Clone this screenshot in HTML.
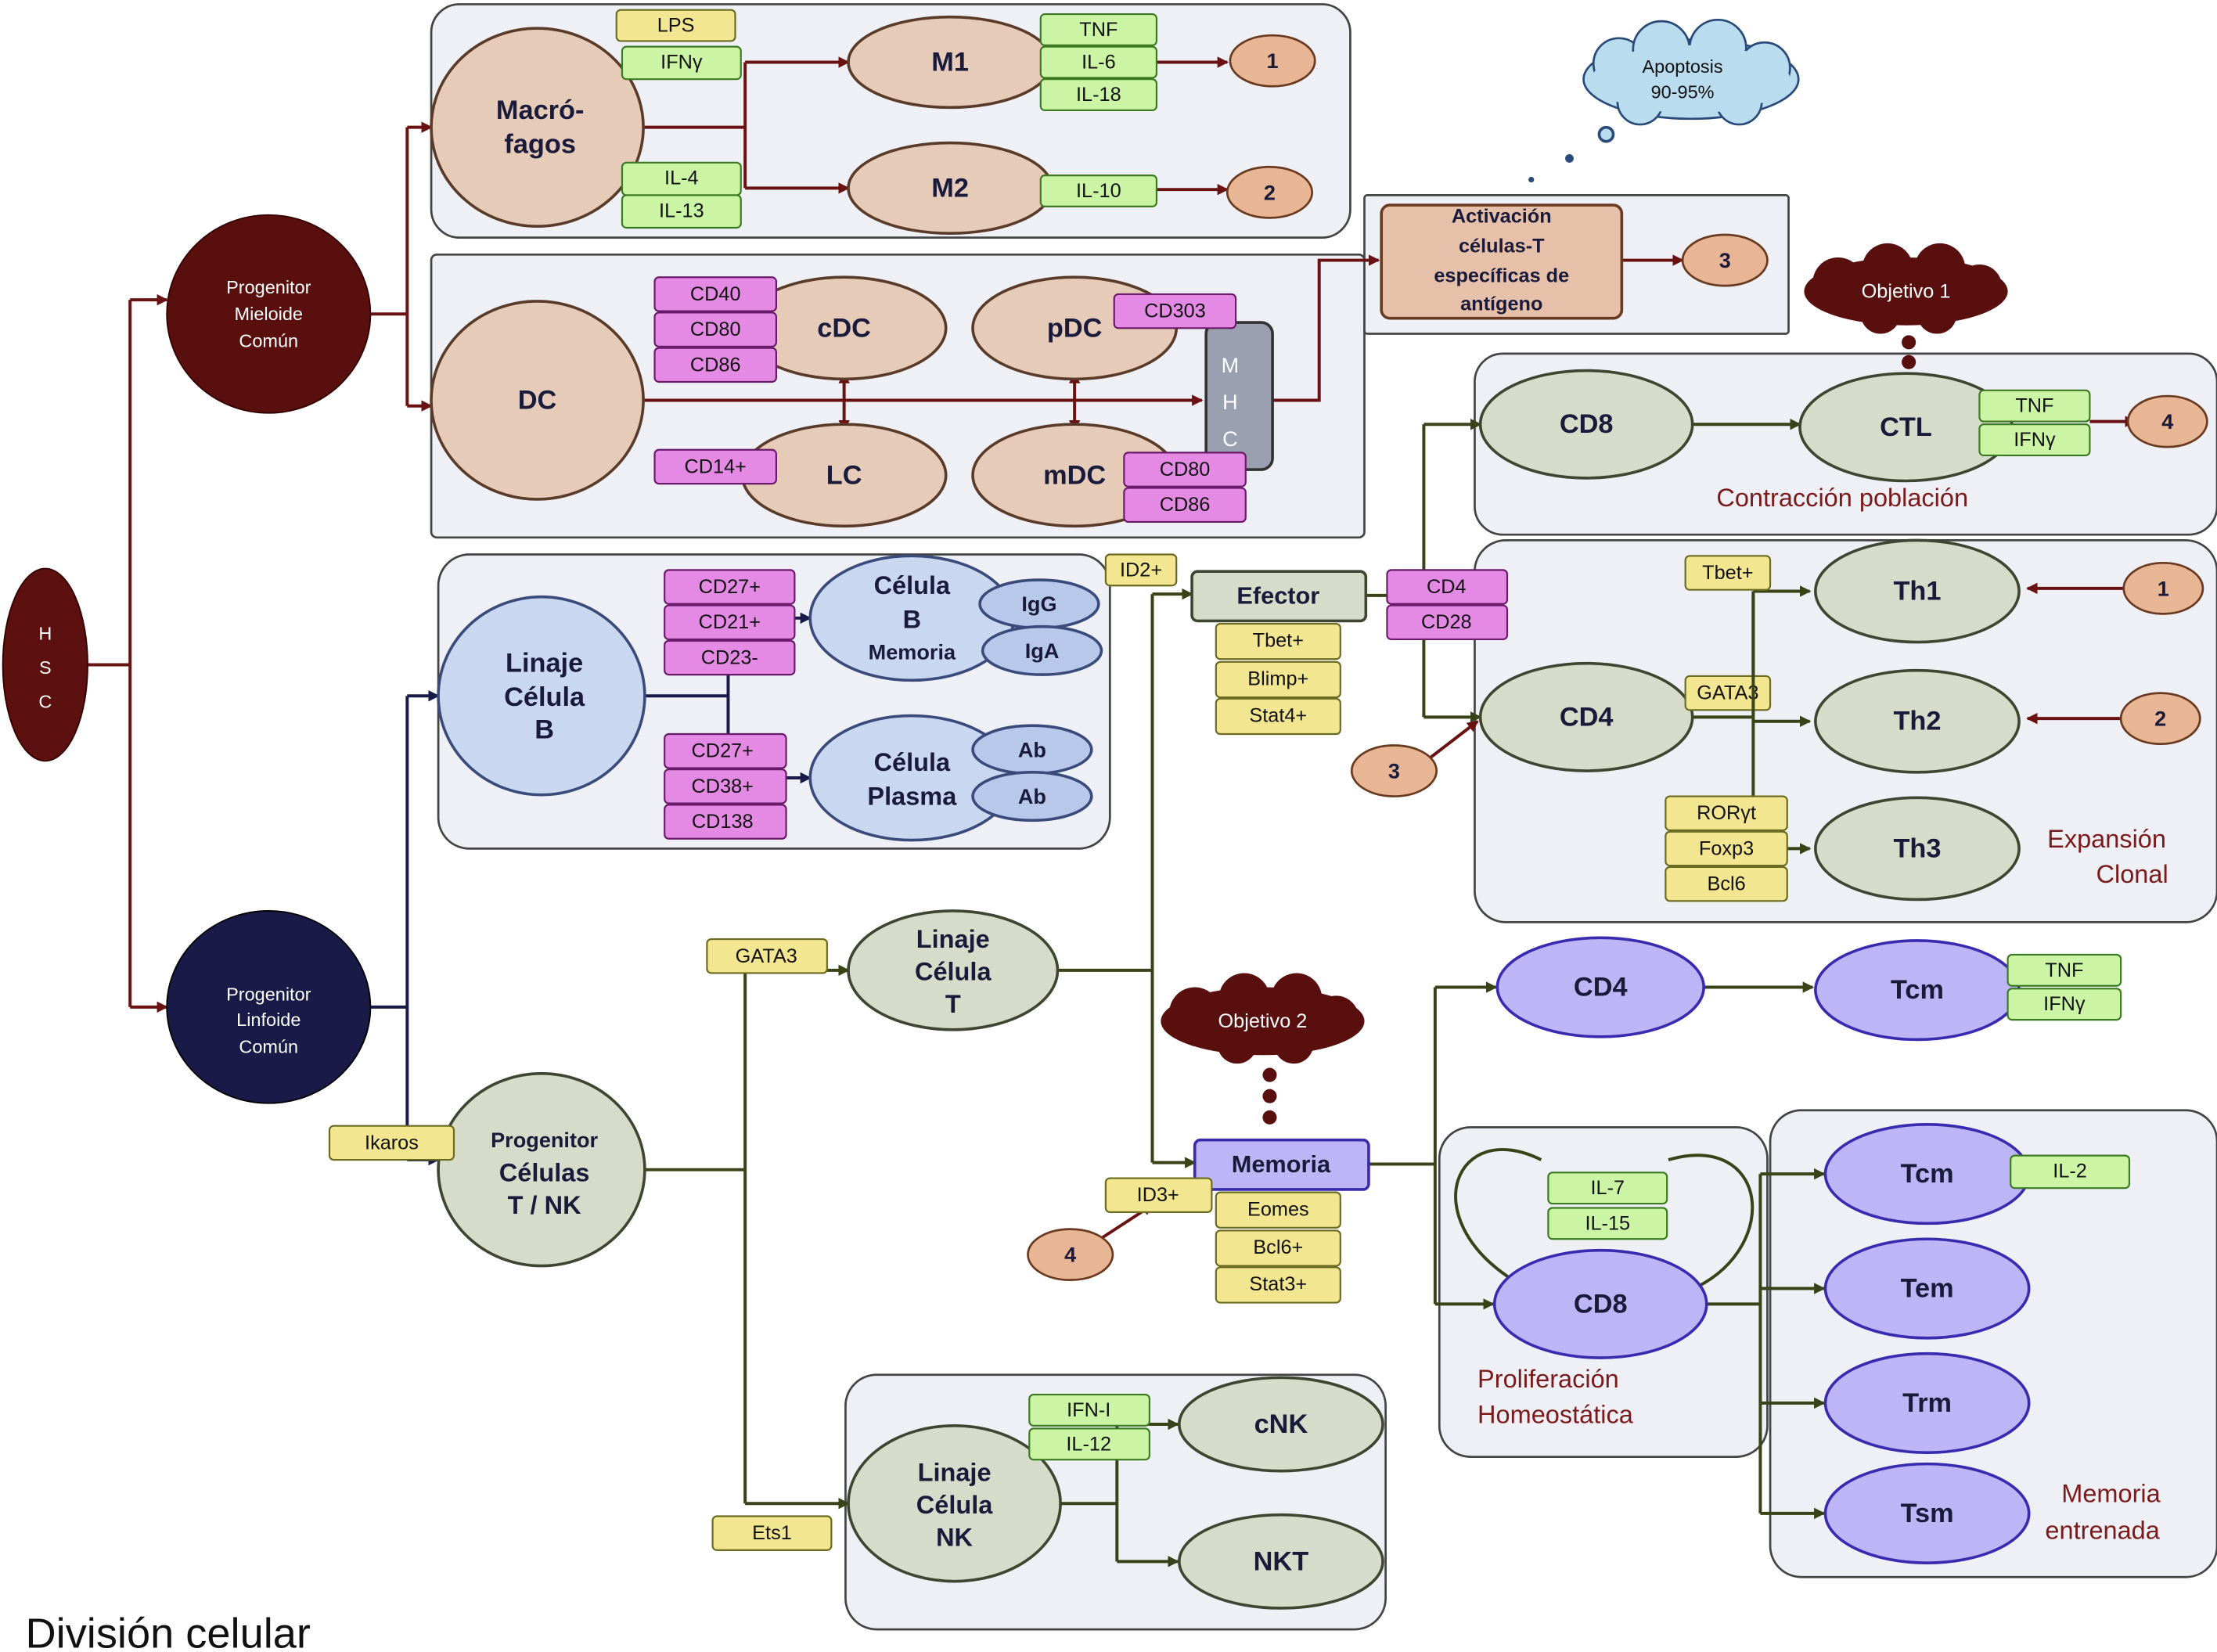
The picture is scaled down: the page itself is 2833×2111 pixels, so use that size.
<!DOCTYPE html>
<html><head><meta charset="utf-8"><style>
html,body{margin:0;padding:0;background:#fff;}
svg{display:block;}
text{font-family:"Liberation Sans",sans-serif;}
.t{font-size:15px;font-weight:bold;text-anchor:middle;dominant-baseline:central;fill:#1a1a3a;}
.s{font-size:14px;text-anchor:middle;dominant-baseline:central;fill:#111;}
.big{font-size:19px;font-weight:bold;text-anchor:middle;dominant-baseline:central;fill:#1a1a3a;}
.w{font-size:13px;text-anchor:middle;dominant-baseline:central;fill:#fff;}
.grp{fill:#eef0f6;stroke:#444;stroke-width:1.5;}
.pe{fill:#e6cbb8;stroke:#5a3a28;stroke-width:2;}
.gr{fill:#d7dbc9;stroke:#3e4530;stroke-width:2;}
.bl{fill:#c9d8f0;stroke:#3a4a7a;stroke-width:2;}
.pu{fill:#bdb5f5;stroke:#3a2ab0;stroke-width:2;}
.nb{fill:#e8b595;stroke:#6a3a20;stroke-width:1.5;}
.m{fill:#e489e4;stroke:#6a1a6a;stroke-width:1.2;}
.g{fill:#cbf5a5;stroke:#3a7a20;stroke-width:1.2;}
.y{fill:#f2e690;stroke:#6a6a20;stroke-width:1.2;}
.r{stroke:#6a1212;stroke-width:2.2;fill:none;}
.n{stroke:#1a1a4a;stroke-width:2.2;fill:none;}
.o{stroke:#3a4218;stroke-width:2.2;fill:none;}
.lbl{font-size:18px;fill:#7a1a1a;}
</style></head><body>
<svg width="2833" height="2111" viewBox="0 0 1568 1168" preserveAspectRatio="none" xmlns="http://www.w3.org/2000/svg">
<defs>
<marker id="ar" markerWidth="8" markerHeight="8" refX="7" refY="4" orient="auto" markerUnits="userSpaceOnUse"><path d="M0,0 L8,4 L0,8z" fill="#6a1212"/></marker>
<marker id="an" markerWidth="8" markerHeight="8" refX="7" refY="4" orient="auto" markerUnits="userSpaceOnUse"><path d="M0,0 L8,4 L0,8z" fill="#1a1a4a"/></marker>
<marker id="ao" markerWidth="8" markerHeight="8" refX="7" refY="4" orient="auto" markerUnits="userSpaceOnUse"><path d="M0,0 L8,4 L0,8z" fill="#3a4218"/></marker>
<marker id="ars" markerWidth="8" markerHeight="8" refX="1" refY="4" orient="auto" markerUnits="userSpaceOnUse"><path d="M8,0 L0,4 L8,8z" fill="#6a1212"/></marker>
</defs>

<!-- group boxes -->
<rect class="grp" x="305" y="3" width="650" height="165" rx="20"/>
<rect class="grp" x="305" y="180" width="660" height="200" rx="4"/>
<rect class="grp" x="965" y="138" width="300" height="98" rx="2"/>
<rect class="grp" x="1043" y="250" width="525" height="128" rx="20"/>
<rect class="grp" x="1043" y="382" width="525" height="270" rx="22"/>
<rect class="grp" x="310" y="392" width="475" height="208" rx="22"/>
<rect class="grp" x="598" y="972" width="382" height="180" rx="22"/>
<rect class="grp" x="1018" y="797" width="232" height="233" rx="22"/>
<rect class="grp" x="1252" y="785" width="316" height="330" rx="22"/>

<!-- connectors -->
<path class="r" d="M62,470 H92 M92,212 V712"/>
<path class="r" d="M92,212 H118" marker-end="url(#ar)"/>
<path class="r" d="M92,712 H118" marker-end="url(#ar)"/>
<path class="r" d="M262,222 H288 M288,90 V287"/>
<path class="r" d="M288,90 H305" marker-end="url(#ar)"/>
<path class="r" d="M288,287 H305" marker-end="url(#ar)"/>
<path class="r" d="M455,90 H527 M527,44 V133"/>
<path class="r" d="M527,44 H600" marker-end="url(#ar)"/>
<path class="r" d="M527,133 H600" marker-end="url(#ar)"/>
<path class="r" d="M744,44 H868" marker-end="url(#ar)"/>
<path class="r" d="M744,134 H868" marker-end="url(#ar)"/>
<path class="r" d="M455,283 H850" marker-end="url(#ar)"/>
<path class="r" d="M597,264 V304" marker-start="url(#ars)" marker-end="url(#ar)"/>
<path class="r" d="M760,264 V304" marker-start="url(#ars)" marker-end="url(#ar)"/>
<path class="r" d="M888,283 H933 V184 H975" marker-end="url(#ar)"/>
<path class="r" d="M1147,184 H1190" marker-end="url(#ar)"/>
<path class="n" d="M262,712 H288 M288,492 V820"/>
<path class="n" d="M288,492 H310" marker-end="url(#an)"/>
<path class="n" d="M288,820 H310" marker-end="url(#an)"/>
<path class="n" d="M456,492 H515 M515,437 V550"/>
<path class="n" d="M515,437 H573" marker-end="url(#an)"/>
<path class="n" d="M515,550 H573" marker-end="url(#an)"/>
<path class="o" d="M456,827 H527 M527,686 V1063"/>
<path class="o" d="M527,686 H600" marker-end="url(#ao)"/>
<path class="o" d="M527,1063 H600" marker-end="url(#ao)"/>
<path class="o" d="M748,686 H815 M815,420 V822"/>
<path class="o" d="M815,420 H843" marker-end="url(#ao)"/>
<path class="o" d="M815,822 H845" marker-end="url(#ao)"/>
<path class="o" d="M966,421 H1007 M1007,300 V507"/>
<path class="o" d="M1007,300 H1047" marker-end="url(#ao)"/>
<path class="o" d="M1007,507 H1047" marker-end="url(#ao)"/>
<path class="o" d="M1197,300 H1273" marker-end="url(#ao)"/>
<path class="r" d="M1478,298 H1510" marker-end="url(#ar)"/>
<path class="o" d="M1197,507 H1240 M1240,418 V600"/>
<path class="o" d="M1240,418 H1280" marker-end="url(#ao)"/>
<path class="o" d="M1240,510 H1280" marker-end="url(#ao)"/>
<path class="o" d="M1240,600 H1280" marker-end="url(#ao)"/>
<path class="r" d="M1508,416 H1434" marker-end="url(#ar)"/>
<path class="r" d="M1506,508 H1434" marker-end="url(#ar)"/>
<path class="r" d="M1006,540 L1045,510" marker-end="url(#ar)"/>
<path class="o" d="M968,823 H1015 M1015,698 V922"/>
<path class="o" d="M1015,698 H1058" marker-end="url(#ao)"/>
<path class="o" d="M1015,922 H1056" marker-end="url(#ao)"/>
<path class="o" d="M1205,698 H1282" marker-end="url(#ao)"/>
<path class="o" d="M1207,922 H1245 M1245,830 V1070"/>
<path class="o" d="M1245,830 H1290" marker-end="url(#ao)"/>
<path class="o" d="M1245,911 H1290" marker-end="url(#ao)"/>
<path class="o" d="M1245,992 H1290" marker-end="url(#ao)"/>
<path class="o" d="M1245,1070 H1290" marker-end="url(#ao)"/>
<path class="r" d="M775,878 L815,852" marker-end="url(#ar)"/>
<path class="o" d="M750,1063 H790 M790,1007 V1104"/>
<path class="o" d="M790,1007 H833" marker-end="url(#ao)"/>
<path class="o" d="M790,1104 H833" marker-end="url(#ao)"/>
<path class="o" d="M1070,905 C1000,860 1030,790 1090,820"/>
<path class="o" d="M1180,820 C1250,800 1260,880 1200,910"/>

<!-- main nodes -->
<ellipse cx="32" cy="470" rx="30" ry="68" fill="#5c1010" stroke="#300"/>
<text class="w" x="32" y="448">H</text><text class="w" x="32" y="472">S</text><text class="w" x="32" y="496">C</text>
<ellipse cx="190" cy="222" rx="72" ry="70" fill="#5a0f0f" stroke="#300"/>
<text class="w" x="190" y="203">Progenitor</text><text class="w" x="190" y="222">Mieloide</text><text class="w" x="190" y="241">Común</text>
<ellipse cx="190" cy="712" rx="72" ry="68" fill="#1a1a48" stroke="#000"/>
<text class="w" x="190" y="703">Progenitor</text><text class="w" x="190" y="721">Linfoide</text><text class="w" x="190" y="740">Común</text>

<ellipse class="pe" cx="380" cy="90" rx="75" ry="70"/>
<text class="big" x="382" y="78">Macró-</text><text class="big" x="382" y="102">fagos</text>
<ellipse class="pe" cx="672" cy="44" rx="72" ry="32"/><text class="big" x="672" y="44">M1</text>
<ellipse class="pe" cx="672" cy="133" rx="72" ry="32"/><text class="big" x="672" y="133">M2</text>
<ellipse class="nb" cx="900" cy="43" rx="30" ry="18"/><text class="t" x="900" y="43">1</text>
<ellipse class="nb" cx="898" cy="136" rx="30" ry="18"/><text class="t" x="898" y="136">2</text>

<ellipse class="pe" cx="380" cy="283" rx="75" ry="70"/><text class="big" x="380" y="283">DC</text>
<ellipse class="pe" cx="597" cy="232" rx="72" ry="36"/><text class="big" x="597" y="232">cDC</text>
<ellipse class="pe" cx="760" cy="232" rx="72" ry="36"/><text class="big" x="760" y="232">pDC</text>
<ellipse class="pe" cx="597" cy="336" rx="72" ry="36"/><text class="big" x="597" y="336">LC</text>
<ellipse class="pe" cx="760" cy="336" rx="72" ry="36"/><text class="big" x="760" y="336">mDC</text>
<rect x="853" y="228" width="47" height="104" rx="8" fill="#9aa0b0" stroke="#333" stroke-width="2"/>
<text class="w" x="870" y="258" style="font-size:15px">M</text><text class="w" x="870" y="284" style="font-size:15px">H</text><text class="w" x="870" y="310" style="font-size:15px">C</text>

<rect x="977" y="145" width="170" height="80" rx="6" fill="#e6c0a8" stroke="#6a3a20" stroke-width="2"/>
<text class="t" x="1062" y="153" style="font-size:14px">Activación</text>
<text class="t" x="1062" y="174" style="font-size:14px">células-T</text>
<text class="t" x="1062" y="195" style="font-size:14px">específicas de</text>
<text class="t" x="1062" y="215" style="font-size:14px">antígeno</text>
<ellipse class="nb" cx="1220" cy="184" rx="30" ry="18"/><text class="t" x="1220" y="184">3</text>

<!-- clouds -->
<g fill="#b9dcef" stroke="#2a4a7a" stroke-width="1.5">
<ellipse cx="1196" cy="56" rx="76" ry="28"/>
<circle cx="1145" cy="45" r="18"/><circle cx="1175" cy="35" r="20"/><circle cx="1215" cy="34" r="20"/><circle cx="1248" cy="48" r="18"/><circle cx="1230" cy="72" r="16"/><circle cx="1160" cy="72" r="16"/>
</g>
<ellipse cx="1196" cy="56" rx="70" ry="24" fill="#b9dcef"/>
<text class="s" x="1190" y="47" style="font-size:13px">Apoptosis</text><text class="s" x="1190" y="65" style="font-size:13px">90-95%</text>
<circle cx="1136" cy="95" r="5" fill="#b9dcef" stroke="#2a4a7a" stroke-width="2"/>
<circle cx="1110" cy="112" r="3" fill="#2a4a7a"/><circle cx="1083" cy="127" r="2" fill="#2a4a7a"/>

<g fill="#5a0f0f">
<ellipse cx="1348" cy="206" rx="72" ry="24"/><circle cx="1300" cy="200" r="18"/><circle cx="1335" cy="190" r="18"/><circle cx="1372" cy="190" r="18"/><circle cx="1400" cy="203" r="16"/><circle cx="1330" cy="222" r="14"/><circle cx="1370" cy="222" r="14"/>
<ellipse cx="893" cy="722" rx="72" ry="24"/><circle cx="845" cy="716" r="18"/><circle cx="880" cy="706" r="18"/><circle cx="917" cy="706" r="18"/><circle cx="945" cy="720" r="16"/><circle cx="875" cy="738" r="14"/><circle cx="915" cy="738" r="14"/>
<circle cx="1350" cy="242" r="5"/><circle cx="1350" cy="256" r="5"/><circle cx="1350" cy="270" r="5"/>
<circle cx="898" cy="760" r="5"/><circle cx="898" cy="775" r="5"/><circle cx="898" cy="790" r="5"/>
</g>
<text class="w" x="1348" y="206" style="font-size:14px">Objetivo 1</text>
<text class="w" x="893" y="722" style="font-size:14px">Objetivo 2</text>

<!-- T effector -->
<ellipse class="gr" cx="1122" cy="300" rx="75" ry="38"/><text class="big" x="1122" y="300">CD8</text>
<ellipse class="gr" cx="1348" cy="302" rx="75" ry="38"/><text class="big" x="1348" y="302">CTL</text>
<ellipse class="nb" cx="1533" cy="298" rx="28" ry="18"/><text class="t" x="1533" y="298">4</text>
<text class="lbl" x="1303" y="352" text-anchor="middle" dominant-baseline="central">Contracción población</text>
<ellipse class="gr" cx="1356" cy="418" rx="72" ry="36"/><text class="big" x="1356" y="418">Th1</text>
<ellipse class="gr" cx="1122" cy="507" rx="75" ry="38"/><text class="big" x="1122" y="507">CD4</text>
<ellipse class="gr" cx="1356" cy="510" rx="72" ry="36"/><text class="big" x="1356" y="510">Th2</text>
<ellipse class="gr" cx="1356" cy="600" rx="72" ry="36"/><text class="big" x="1356" y="600">Th3</text>
<ellipse class="nb" cx="1530" cy="416" rx="28" ry="18"/><text class="t" x="1530" y="416">1</text>
<ellipse class="nb" cx="1528" cy="508" rx="28" ry="18"/><text class="t" x="1528" y="508">2</text>
<ellipse class="nb" cx="986" cy="545" rx="30" ry="18"/><text class="t" x="986" y="545">3</text>
<text class="lbl" x="1490" y="593" text-anchor="middle" dominant-baseline="central">Expansión</text>
<text class="lbl" x="1508" y="618" text-anchor="middle" dominant-baseline="central">Clonal</text>

<rect x="843" y="404" width="123" height="35" rx="4" fill="#d7dbc9" stroke="#3e4530" stroke-width="2"/><text class="big" x="904" y="421" style="font-size:17px">Efector</text>
<rect x="845" y="806" width="123" height="35" rx="4" class="pu"/><text class="big" x="906" y="823" style="font-size:17px">Memoria</text>

<!-- B -->
<ellipse class="bl" cx="383" cy="492" rx="73" ry="70"/>
<text class="big" x="385" y="469">Linaje</text><text class="big" x="385" y="493">Célula</text><text class="big" x="385" y="516">B</text>
<ellipse class="bl" cx="645" cy="437" rx="72" ry="44"/>
<ellipse class="bl" cx="735" cy="427" rx="42" ry="17" style="fill:#b8c8ea"/><ellipse class="bl" cx="737" cy="460" rx="42" ry="17" style="fill:#b8c8ea"/>
<text class="big" x="645" y="414" style="font-size:18px">Célula</text><text class="big" x="645" y="438" style="font-size:18px">B</text><text class="t" x="645" y="461">Memoria</text>
<text class="t" x="735" y="427">IgG</text><text class="t" x="737" y="460">IgA</text>
<ellipse class="bl" cx="645" cy="550" rx="72" ry="44"/>
<ellipse class="bl" cx="730" cy="530" rx="42" ry="17" style="fill:#b8c8ea"/><ellipse class="bl" cx="730" cy="563" rx="42" ry="17" style="fill:#b8c8ea"/>
<text class="big" x="645" y="539" style="font-size:18px">Célula</text><text class="big" x="645" y="563" style="font-size:18px">Plasma</text>
<text class="t" x="730" y="530">Ab</text><text class="t" x="730" y="563">Ab</text>

<!-- T lineage -->
<ellipse class="gr" cx="674" cy="686" rx="74" ry="42"/>
<text class="big" x="674" y="664" style="font-size:18px">Linaje</text><text class="big" x="674" y="687" style="font-size:18px">Célula</text><text class="big" x="674" y="710" style="font-size:18px">T</text>
<ellipse class="gr" cx="383" cy="827" rx="73" ry="68"/>
<text class="t" x="385" y="806">Progenitor</text><text class="big" x="385" y="829" style="font-size:18px">Células</text><text class="big" x="385" y="852" style="font-size:18px">T / NK</text>
<ellipse class="nb" cx="757" cy="887" rx="30" ry="18"/><text class="t" x="757" y="887">4</text>

<!-- memory -->
<ellipse class="pu" cx="1132" cy="698" rx="73" ry="35"/><text class="big" x="1132" y="698">CD4</text>
<ellipse class="pu" cx="1356" cy="700" rx="72" ry="35"/><text class="big" x="1356" y="700">Tcm</text>
<ellipse class="pu" cx="1132" cy="922" rx="75" ry="38"/><text class="big" x="1132" y="922">CD8</text>
<text class="lbl" x="1045" y="975" dominant-baseline="central">Proliferación</text>
<text class="lbl" x="1045" y="1000" dominant-baseline="central">Homeostática</text>
<ellipse class="pu" cx="1363" cy="830" rx="72" ry="35"/><text class="big" x="1363" y="830">Tcm</text>
<ellipse class="pu" cx="1363" cy="911" rx="72" ry="35"/><text class="big" x="1363" y="911">Tem</text>
<ellipse class="pu" cx="1363" cy="992" rx="72" ry="35"/><text class="big" x="1363" y="992">Trm</text>
<ellipse class="pu" cx="1363" cy="1070" rx="72" ry="35"/><text class="big" x="1363" y="1070">Tsm</text>
<text class="lbl" x="1493" y="1056" text-anchor="middle" dominant-baseline="central">Memoria</text>
<text class="lbl" x="1487" y="1082" text-anchor="middle" dominant-baseline="central">entrenada</text>

<!-- NK -->
<ellipse class="gr" cx="675" cy="1063" rx="75" ry="55"/>
<text class="big" x="675" y="1041" style="font-size:18px">Linaje</text><text class="big" x="675" y="1064" style="font-size:18px">Célula</text><text class="big" x="675" y="1087" style="font-size:18px">NK</text>
<ellipse class="gr" cx="906" cy="1007" rx="72" ry="33"/><text class="big" x="906" y="1007">cNK</text>
<ellipse class="gr" cx="906" cy="1104" rx="72" ry="33"/><text class="big" x="906" y="1104">NKT</text>

<!-- labels magenta -->
<g>
<rect class="m" x="463" y="196" width="86" height="24" rx="3"/><text class="s" x="506" y="208">CD40</text>
<rect class="m" x="463" y="221" width="86" height="24" rx="3"/><text class="s" x="506" y="233">CD80</text>
<rect class="m" x="463" y="246" width="86" height="24" rx="3"/><text class="s" x="506" y="258">CD86</text>
<rect class="m" x="788" y="208" width="86" height="24" rx="3"/><text class="s" x="831" y="220">CD303</text>
<rect class="m" x="463" y="318" width="86" height="24" rx="3"/><text class="s" x="506" y="330">CD14+</text>
<rect class="m" x="795" y="320" width="86" height="24" rx="3"/><text class="s" x="838" y="332">CD80</text>
<rect class="m" x="795" y="345" width="86" height="24" rx="3"/><text class="s" x="838" y="357">CD86</text>
<rect class="m" x="981" y="403" width="85" height="24" rx="3"/><text class="s" x="1023" y="415">CD4</text>
<rect class="m" x="981" y="428" width="85" height="24" rx="3"/><text class="s" x="1023" y="440">CD28</text>
<rect class="m" x="470" y="403" width="92" height="24" rx="3"/><text class="s" x="516" y="415">CD27+</text>
<rect class="m" x="470" y="428" width="92" height="24" rx="3"/><text class="s" x="516" y="440">CD21+</text>
<rect class="m" x="470" y="453" width="92" height="24" rx="3"/><text class="s" x="516" y="465">CD23-</text>
<rect class="m" x="470" y="519" width="86" height="24" rx="3"/><text class="s" x="511" y="531">CD27+</text>
<rect class="m" x="470" y="544" width="86" height="24" rx="3"/><text class="s" x="511" y="556">CD38+</text>
<rect class="m" x="470" y="569" width="86" height="24" rx="3"/><text class="s" x="511" y="581">CD138</text>
</g>
<!-- green -->
<g>
<rect class="g" x="440" y="33" width="84" height="23" rx="3"/><text class="s" x="482" y="44">IFNγ</text>
<rect class="g" x="440" y="115" width="84" height="23" rx="3"/><text class="s" x="482" y="126">IL-4</text>
<rect class="g" x="440" y="138" width="84" height="23" rx="3"/><text class="s" x="482" y="149">IL-13</text>
<rect class="g" x="736" y="10" width="82" height="22" rx="3"/><text class="s" x="777" y="21">TNF</text>
<rect class="g" x="736" y="33" width="82" height="22" rx="3"/><text class="s" x="777" y="44">IL-6</text>
<rect class="g" x="736" y="56" width="82" height="22" rx="3"/><text class="s" x="777" y="67">IL-18</text>
<rect class="g" x="736" y="124" width="82" height="22" rx="3"/><text class="s" x="777" y="135">IL-10</text>
<rect class="g" x="1400" y="276" width="78" height="22" rx="3"/><text class="s" x="1439" y="287">TNF</text>
<rect class="g" x="1400" y="300" width="78" height="22" rx="3"/><text class="s" x="1439" y="311">IFNγ</text>
<rect class="g" x="1420" y="675" width="80" height="22" rx="3"/><text class="s" x="1460" y="686">TNF</text>
<rect class="g" x="1420" y="699" width="80" height="22" rx="3"/><text class="s" x="1460" y="710">IFNγ</text>
<rect class="g" x="1095" y="829" width="84" height="22" rx="3"/><text class="s" x="1137" y="840">IL-7</text>
<rect class="g" x="1095" y="854" width="84" height="22" rx="3"/><text class="s" x="1137" y="865">IL-15</text>
<rect class="g" x="1422" y="817" width="84" height="23" rx="3"/><text class="s" x="1464" y="828">IL-2</text>
<rect class="g" x="728" y="986" width="85" height="22" rx="3"/><text class="s" x="770" y="997">IFN-I</text>
<rect class="g" x="728" y="1010" width="85" height="22" rx="3"/><text class="s" x="770" y="1021">IL-12</text>
</g>
<!-- yellow -->
<g>
<rect class="y" x="436" y="7" width="84" height="22" rx="3"/><text class="s" x="478" y="18">LPS</text>
<rect class="y" x="782" y="392" width="50" height="22" rx="3"/><text class="s" x="807" y="403">ID2+</text>
<rect class="y" x="860" y="441" width="88" height="25" rx="3"/><text class="s" x="904" y="453">Tbet+</text>
<rect class="y" x="860" y="468" width="88" height="25" rx="3"/><text class="s" x="904" y="480">Blimp+</text>
<rect class="y" x="860" y="494" width="88" height="25" rx="3"/><text class="s" x="904" y="506">Stat4+</text>
<rect class="y" x="1192" y="393" width="60" height="24" rx="3"/><text class="s" x="1222" y="405">Tbet+</text>
<rect class="y" x="1192" y="478" width="60" height="24" rx="3"/><text class="s" x="1222" y="490">GATA3</text>
<rect class="y" x="1178" y="563" width="86" height="24" rx="3"/><text class="s" x="1221" y="575">RORγt</text>
<rect class="y" x="1178" y="588" width="86" height="24" rx="3"/><text class="s" x="1221" y="600">Foxp3</text>
<rect class="y" x="1178" y="613" width="86" height="24" rx="3"/><text class="s" x="1221" y="625">Bcl6</text>
<rect class="y" x="500" y="664" width="85" height="24" rx="3"/><text class="s" x="542" y="676">GATA3</text>
<rect class="y" x="233" y="796" width="88" height="24" rx="3"/><text class="s" x="277" y="808">Ikaros</text>
<rect class="y" x="782" y="833" width="75" height="24" rx="3"/><text class="s" x="819" y="845">ID3+</text>
<rect class="y" x="860" y="843" width="88" height="25" rx="3"/><text class="s" x="904" y="855">Eomes</text>
<rect class="y" x="860" y="870" width="88" height="25" rx="3"/><text class="s" x="904" y="882">Bcl6+</text>
<rect class="y" x="860" y="896" width="88" height="25" rx="3"/><text class="s" x="904" y="908">Stat3+</text>
<rect class="y" x="504" y="1072" width="84" height="24" rx="3"/><text class="s" x="546" y="1084">Ets1</text>
</g>
<path class="o" d="M1240,505 V420" />

<text x="18" y="1155" style="font-size:30px;fill:#111;" dominant-baseline="central">División celular</text>
</svg>
</body></html>
